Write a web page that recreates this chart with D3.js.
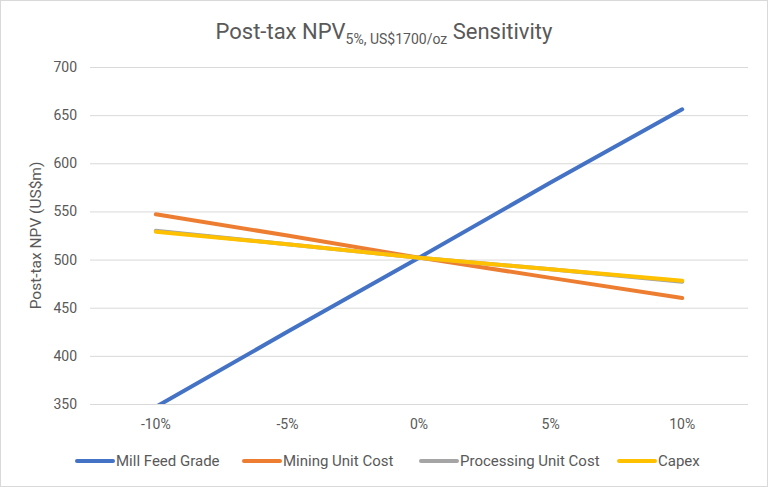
<!DOCTYPE html>
<html>
<head>
<meta charset="utf-8">
<script src="https://cdn.jsdelivr.net/npm/d3@7"></script>
<style>
  body { margin: 0; background: #fff; }
  text { font-family: Roboto, "Noto Sans", sans-serif; fill: #595959; }
</style>
</head>
<body>
<svg id="the-svg" width="768" height="487"></svg>
<script>
var categories = ["-10%", "-5%", "0%", "5%", "10%"];
var millFeedGrade = [347, 425, 502, 580, 656];
var miningUnitCost = [547, 525, 502, 481, 460];
var processingUnitCost = [530, 516, 502, 490, 477];
var capex = [529, 516, 502, 490, 478];
var yTicks = [350, 400, 450, 500, 550, 600, 650, 700];

var seriesNames = ["Mill Feed Grade", "Mining Unit Cost", "Processing Unit Cost", "Capex"];
var seriesColors = ["#4472c4", "#ed7d31", "#a5a5a5", "#ffc000"];
var seriesValues = [millFeedGrade, miningUnitCost, processingUnitCost, capex];

var theSvg = d3.select("#the-svg");
var margin = {left: 90, right: 20, top: 67, bottom: 83};
var width = 768 - margin.left - margin.right;
var height = 487 - margin.top - margin.bottom;

// chart border
theSvg.append("rect")
    .attr("x", 0.5).attr("y", 0.5)
    .attr("width", 767).attr("height", 486)
    .attr("fill", "#fff")
    .attr("stroke", "#d9d9d9");

var x = d3.scaleBand().domain(categories).range([0, width]);
var y = d3.scaleLinear().domain([350, 700]).range([height, 0]);

var g = theSvg.append("g")
    .attr("transform", "translate(" + margin.left + "," + margin.top + ")");

g.append("clipPath").attr("id", "plot-clip")
    .append("rect").attr("x", 0).attr("y", 0).attr("width", width).attr("height", height);

// gridlines + y labels
var yAxis = g.append("g")
    .call(d3.axisLeft(y).tickValues(yTicks).tickSize(-width).tickPadding(13).tickFormat(d3.format("d")));
yAxis.select(".domain").remove();
yAxis.selectAll("line").attr("stroke", "#d9d9d9").attr("stroke-width", 1);
yAxis.selectAll("text").attr("font-size", 14).attr("fill", "#595959");

// x labels
var xAxis = g.append("g")
    .attr("transform", "translate(0," + height + ")")
    .call(d3.axisBottom(x).tickSize(0).tickPadding(15));
xAxis.select(".domain").remove();
xAxis.selectAll("text").attr("font-size", 14).attr("fill", "#595959");

var line = d3.line()
    .x(function(d, i) { return x(categories[i]) + x.bandwidth() / 2; })
    .y(function(d) { return y(d); });

g.append("g").attr("clip-path", "url(#plot-clip)")
    .selectAll(".series")
    .data(seriesValues)
    .enter().append("path")
        .attr("class", "series")
        .attr("d", line)
        .attr("fill", "none")
        .attr("stroke", function(d, i) { return seriesColors[i]; })
        .attr("stroke-width", 4)
        .attr("stroke-linecap", "round")
        .attr("stroke-linejoin", "round");

// title
var title = theSvg.append("text")
    .attr("x", 384)
    .attr("y", 39)
    .attr("text-anchor", "middle")
    .attr("font-size", 22)
    .attr("fill", "#595959");
title.append("tspan").text("Post-tax NPV");
title.append("tspan").attr("font-size", 14).attr("dy", 5).text("5%, US$1700/oz");
title.append("tspan").attr("dy", -5).text(" Sensitivity");

// y axis title
theSvg.append("text")
    .attr("transform", "translate(41," + (margin.top + height / 2) + ") rotate(-90)")
    .attr("text-anchor", "middle")
    .attr("font-size", 15.5)
    .attr("fill", "#595959")
    .text("Post-tax NPV (US$m)");

// legend
var legendX = [77, 244, 421, 619];
var legend = theSvg.selectAll(".legend")
    .data(seriesNames)
    .enter().append("g")
        .attr("class", "legend")
        .attr("transform", function(d, i) { return "translate(" + legendX[i] + ",461)"; });
legend.append("line")
    .attr("x1", 0).attr("x2", 36)
    .attr("stroke", function(d, i) { return seriesColors[i]; })
    .attr("stroke-width", 4)
    .attr("stroke-linecap", "round");
legend.append("text")
    .attr("x", 39)
    .attr("dy", "0.35em")
    .attr("font-size", 15)
    .text(function(d) { return d; });
</script>
</body>
</html>
